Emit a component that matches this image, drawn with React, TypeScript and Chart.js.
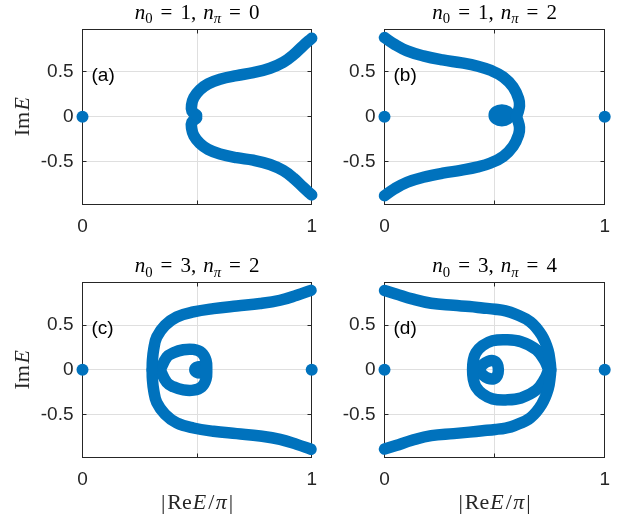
import React, { useEffect, useRef } from 'react';
import { Chart, registerables } from 'chart.js';

Chart.register(...registerables);

const W = 623;
const H = 514;
const BLUE = '#0072BD';
const AXIS = '#262626';
const GRID = '#dfdfdf';
const SANS = '"Liberation Sans", Arial, sans-serif';
const SERIF = '"Liberation Serif", "Times New Roman", serif';

const xTickValues = [0, 0.5, 1];
const xTickLabels = ['0', '', '1'];
const yTickValues = [-0.5, 0, 0.5];
const yTickLabels = ['-0.5', '0', '0.5'];
const yMin = -0.98;
const yMax = 0.98;

const n0Values = [1, 1, 3, 3];
const nPiValues = [0, 2, 2, 4];
const panelLetters = ['(a)', '(b)', '(c)', '(d)'];

// ---- panel (a) ----
const aUpperX = [1.0, 0.963, 0.92, 0.876, 0.818, 0.745, 0.672, 0.6, 0.548, 0.512, 0.486, 0.476, 0.477, 0.498];
const aUpperY = [0.877, 0.794, 0.69, 0.608, 0.541, 0.492, 0.459, 0.418, 0.366, 0.299, 0.213, 0.131, 0.064, 0.015];
const aLowerX = [0.498, 0.477, 0.476, 0.486, 0.512, 0.548, 0.6, 0.672, 0.745, 0.818, 0.876, 0.92, 0.963, 1.0];
const aLowerY = [-0.015, -0.064, -0.131, -0.213, -0.299, -0.366, -0.418, -0.459, -0.487, -0.535, -0.603, -0.686, -0.79, -0.876];
const aDotX = [0];
const aDotY = [0];

// ---- panel (b) ----
const bUpperX = [0, 0.045, 0.103, 0.176, 0.264, 0.351, 0.424, 0.482, 0.54, 0.584, 0.609, 0.613, 0.605, 0.598];
const bUpperY = [0.884, 0.81, 0.735, 0.679, 0.634, 0.601, 0.564, 0.518, 0.443, 0.331, 0.201, 0.12, 0.04, 0.0];
const bLowerX = [0.598, 0.605, 0.613, 0.609, 0.584, 0.54, 0.482, 0.424, 0.351, 0.264, 0.176, 0.103, 0.045, 0];
const bLowerY = [0.0, -0.04, -0.12, -0.201, -0.331, -0.443, -0.518, -0.562, -0.598, -0.632, -0.678, -0.733, -0.808, -0.884];
const bLoopX = [0.568, 0.558, 0.533, 0.508, 0.498, 0.508, 0.533, 0.558, 0.568];
const bLoopY = [0.015, 0.058, 0.075, 0.058, 0.015, -0.028, -0.045, -0.028, 0.015];
const bDotX = [0, 1];
const bDotY = [0, 0];

// ---- panel (c) ----
const cUpperX = [0.997, 0.935, 0.862, 0.775, 0.673, 0.571, 0.484, 0.411, 0.36, 0.324, 0.311, 0.305, 0.304];
const cUpperY = [0.89, 0.835, 0.779, 0.742, 0.715, 0.685, 0.648, 0.592, 0.498, 0.367, 0.236, 0.105, 0.0];
const cLowerX = [0.304, 0.305, 0.311, 0.324, 0.36, 0.411, 0.484, 0.571, 0.673, 0.775, 0.862, 0.935, 0.997];
const cLowerY = [0.0, -0.105, -0.236, -0.367, -0.498, -0.595, -0.652, -0.688, -0.715, -0.742, -0.779, -0.835, -0.89];
const cLoopX = [0.339, 0.368, 0.397, 0.44, 0.484, 0.52, 0.539, 0.542, 0.539, 0.52, 0.484, 0.44, 0.397, 0.368, 0.339];
const cLoopY = [0, 0.143, 0.191, 0.225, 0.228, 0.191, 0.105, 0, -0.105, -0.191, -0.228, -0.225, -0.191, -0.143, 0];
const cBlobX = [0.54, 0.532, 0.515, 0.498, 0.49, 0.498, 0.515, 0.532, 0.54];
const cBlobY = [0, 0.028, 0.037, 0.028, 0, -0.028, -0.037, -0.028, 0];
const cDotX = [0, 1];
const cDotY = [0, 0];

// ---- panel (d) ----
const dUpperX = [0, 0.052, 0.125, 0.212, 0.314, 0.386, 0.445, 0.503, 0.55, 0.59, 0.663, 0.714, 0.743, 0.753, 0.755];
const dUpperY = [0.888, 0.85, 0.794, 0.745, 0.722, 0.708, 0.693, 0.678, 0.66, 0.629, 0.536, 0.386, 0.217, 0.067, 0];
const dLowerX = [0.755, 0.753, 0.743, 0.714, 0.663, 0.59, 0.55, 0.503, 0.445, 0.386, 0.314, 0.212, 0.125, 0.052, 0];
const dLowerY = [0, -0.067, -0.217, -0.386, -0.536, -0.625, -0.652, -0.668, -0.683, -0.698, -0.715, -0.738, -0.79, -0.848, -0.888];
const dBigLoopX = [0.745, 0.728, 0.69, 0.62, 0.55, 0.49, 0.445, 0.415, 0.403, 0.4, 0.403, 0.415, 0.445, 0.49, 0.55, 0.62, 0.69, 0.728, 0.745];
const dBigLoopY = [0, 0.1, 0.225, 0.315, 0.337, 0.325, 0.27, 0.19, 0.1, 0, -0.1, -0.19, -0.27, -0.325, -0.337, -0.315, -0.225, -0.1, 0];
const dInnerX = [0.43, 0.445, 0.47, 0.497, 0.513, 0.517, 0.513, 0.497, 0.47, 0.445, 0.43];
const dInnerY = [0, 0.055, 0.095, 0.1, 0.06, 0, -0.06, -0.1, -0.095, -0.055, 0];
const dDotX = [0, 1];
const dDotY = [0, 0];

type Panel = {
  L: number; R: number; T: number; B: number;
  curves: [number[], number[]][];
  dots: [number[], number[]];
  showY: boolean; showX: boolean;
};

const panels: Panel[] = [
  { L: 82.5, R: 311.7, T: 29, B: 204.3, curves: [[aUpperX, aUpperY], [aLowerX, aLowerY]], dots: [aDotX, aDotY], showY: true, showX: false },
  { L: 384.5, R: 613.8, T: 29, B: 204.3, curves: [[bUpperX, bUpperY], [bLowerX, bLowerY], [bLoopX, bLoopY]], dots: [bDotX, bDotY], showY: false, showX: false },
  { L: 82.5, R: 311.7, T: 282.3, B: 457.3, curves: [[cUpperX, cUpperY], [cLowerX, cLowerY], [cLoopX, cLoopY], [cBlobX, cBlobY]], dots: [cDotX, cDotY], showY: true, showX: true },
  { L: 384.5, R: 613.8, T: 282.3, B: 457.3, curves: [[dUpperX, dUpperY], [dLowerX, dLowerY], [dBigLoopX, dBigLoopY], [dInnerX, dInnerY]], dots: [dDotX, dDotY], showY: false, showX: true },
];

type Seg = { t: string; it?: boolean; sub?: boolean; gap?: number };

function drawRich(ctx: CanvasRenderingContext2D, segs: Seg[], cx: number, baseline: number, size: number, color: string) {
  const fontOf = (s: Seg) => `${s.it ? 'italic ' : ''}${s.sub ? size * 0.7 : size}px ${SERIF}`;
  let total = 0;
  const widths = segs.map((s) => {
    ctx.font = fontOf(s);
    const w = ctx.measureText(s.t).width + (s.gap || 0);
    total += w;
    return w;
  });
  let x = cx - total / 2;
  ctx.fillStyle = color;
  ctx.textAlign = 'left';
  ctx.textBaseline = 'alphabetic';
  segs.forEach((s, i) => {
    ctx.font = fontOf(s);
    ctx.fillText(s.t, x, baseline + (s.sub ? size * 0.2 : 0));
    x += widths[i];
  });
}

const snap = (v: number) => Math.round(v - 0.5) + 0.5;

function makeDeco(p: Panel, i: number) {
  return {
    id: 'deco' + i,
    beforeDatasetsDraw(chart: any) {
      const { ctx, chartArea: a, scales } = chart;
      const xs = scales.x;
      const ys = scales.y;
      ctx.save();
      ctx.strokeStyle = AXIS;
      ctx.lineWidth = 1;
      const l = snap(a.left), r = snap(a.right), t = snap(a.top), b = snap(a.bottom);
      ctx.strokeRect(l, t, r - l, b - t);
      const tl = 4;
      ctx.beginPath();
      xTickValues.forEach((v) => {
        const px = snap(xs.getPixelForValue(v));
        ctx.moveTo(px, b); ctx.lineTo(px, b - tl);
        ctx.moveTo(px, t); ctx.lineTo(px, t + tl);
      });
      yTickValues.forEach((v) => {
        const py = snap(ys.getPixelForValue(v));
        ctx.moveTo(l, py); ctx.lineTo(l + tl, py);
        ctx.moveTo(r, py); ctx.lineTo(r - tl, py);
      });
      ctx.stroke();
      ctx.restore();
    },
    afterDraw(chart: any) {
      const { ctx, chartArea: a, scales } = chart;
      const ys = scales.y;
      ctx.save();
      const cx = (a.left + a.right) / 2;
      const titleSegs: Seg[] = [
        { t: 'n', it: true }, { t: '0', sub: true, gap: 8 }, { t: '=', gap: 8 }, { t: `${n0Values[i]},`, gap: 7 },
        { t: 'n', it: true }, { t: 'π', it: true, sub: true, gap: 8 }, { t: '=', gap: 8 }, { t: `${nPiValues[i]}` },
      ];
      drawRich(ctx, titleSegs, cx, a.top - 10, 21, '#000');

      ctx.font = `19px ${SANS}`;
      ctx.fillStyle = '#000';
      ctx.textAlign = 'left';
      ctx.textBaseline = 'middle';
      ctx.fillText(panelLetters[i], a.left + 9, ys.getPixelForValue(0.46));

      if (p.showY) {
        ctx.save();
        ctx.translate(28.5, (a.top + a.bottom) / 2);
        ctx.rotate(-Math.PI / 2);
        drawRich(ctx, [{ t: 'Im', gap: 1.5 }, { t: 'E', it: true }], 0, 0, 22, AXIS);
        ctx.restore();
      }
      if (p.showX) {
        drawRich(ctx, [
          { t: '|', gap: 2 }, { t: 'Re', gap: 1 }, { t: 'E', it: true, gap: 2 }, { t: '/', gap: 1.5 }, { t: 'π', it: true, gap: 2 }, { t: '|' },
        ], cx, 509, 22, AXIS);
      }
      ctx.restore();
    },
  };
}

export default function App() {
  const refs = useRef<(HTMLCanvasElement | null)[]>([]);

  useEffect(() => {
    const charts = panels.map((p, i) => {
      const canvas = refs.current[i] as HTMLCanvasElement;
      const datasets: any[] = [
        ...p.curves.map(([xs, ys]) => ({
          data: xs.map((x, k) => ({ x, y: ys[k] })),
          showLine: true,
          borderColor: BLUE,
          backgroundColor: BLUE,
          borderWidth: 11.5,
          pointRadius: 0,
          tension: 0.4,
          borderCapStyle: 'round',
          borderJoinStyle: 'round',
          fill: false,
          clip: false,
        })),
        {
          data: p.dots[0].map((x, k) => ({ x, y: p.dots[1][k] })),
          showLine: false,
          pointRadius: 6,
          pointBackgroundColor: BLUE,
          pointBorderColor: BLUE,
          pointBorderWidth: 0,
          clip: false,
        },
      ];
      return new Chart(canvas, {
        type: 'scatter',
        data: { datasets },
        options: {
          responsive: false,
          animation: false,
          events: [],
          layout: { padding: { left: 0, top: p.T, right: W - p.R, bottom: 0 } },
          plugins: { legend: { display: false }, tooltip: { enabled: false }, title: { display: false } },
          scales: {
            x: {
              type: 'linear',
              position: 'bottom',
              min: 0,
              max: 1,
              afterBuildTicks: (s: any) => { s.ticks = xTickValues.map((v) => ({ value: v })); },
              afterFit: (s: any) => { s.height = H - p.B; },
              grid: { color: GRID, drawTicks: false, lineWidth: 1 },
              border: { display: false },
              ticks: {
                autoSkip: false,
                maxRotation: 0,
                padding: 13,
                color: AXIS,
                font: { family: SANS, size: 19, lineHeight: 1 },
                callback: (_v: any, idx: number) => xTickLabels[idx],
              },
            },
            y: {
              type: 'linear',
              position: 'left',
              min: yMin,
              max: yMax,
              afterBuildTicks: (s: any) => { s.ticks = yTickValues.map((v) => ({ value: v })); },
              afterFit: (s: any) => { s.width = p.L; },
              grid: { color: GRID, drawTicks: false, lineWidth: 1 },
              border: { display: false },
              ticks: {
                autoSkip: false,
                padding: 9,
                color: AXIS,
                font: { family: SANS, size: 19, lineHeight: 1 },
                callback: (_v: any, idx: number) => yTickLabels[idx],
              },
            },
          },
        } as any,
        plugins: [makeDeco(p, i)],
      });
    });
    return () => charts.forEach((c) => c.destroy());
  }, []);

  return (
    <div style={{ position: 'absolute', left: 0, top: 0, width: W, height: H, background: '#fff' }}>
      {panels.map((_, i) => (
        <canvas
          key={i}
          ref={(el) => { refs.current[i] = el; }}
          width={W}
          height={H}
          style={{ position: 'absolute', left: 0, top: 0 }}
        />
      ))}
    </div>
  );
}
